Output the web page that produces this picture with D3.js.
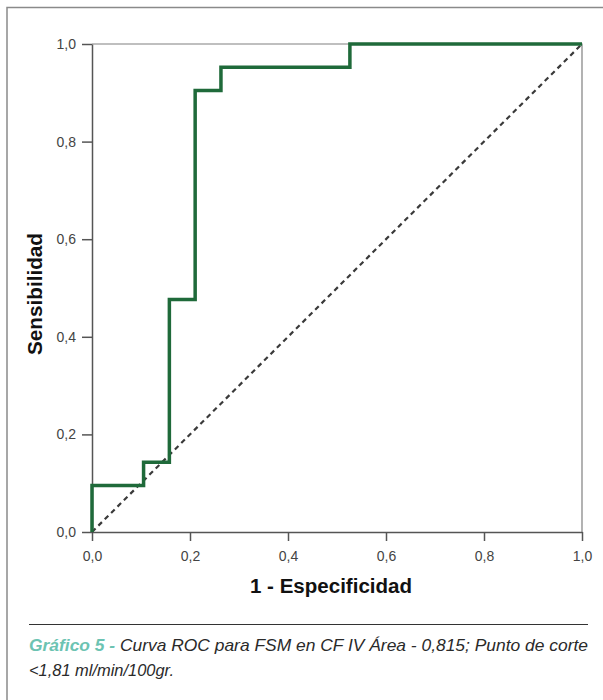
<!DOCTYPE html>
<html><head><meta charset="utf-8">
<script src="https://cdn.jsdelivr.net/npm/d3@7/dist/d3.min.js"></script>
<style>body{margin:0;background:#fff}svg{display:block}</style>
</head><body>
<script>
// ROC curve points (1 - Especificidad, Sensibilidad)
const fpr = [0, 0, 2/19, 2/19, 3/19, 3/19, 4/19, 4/19, 5/19, 5/19, 10/19, 10/19, 1];
const tpr = [0, 2/21, 2/21, 3/21, 3/21, 10/21, 10/21, 19/21, 19/21, 20/21, 20/21, 1, 1];
const tickValues = [0, 0.2, 0.4, 0.6, 0.8, 1.0];
const tickLabels = ["0,0", "0,2", "0,4", "0,6", "0,8", "1,0"];
const xTitle = "1 - Especificidad";
const yTitle = "Sensibilidad";
const captionLead = "Gráfico 5 -";
const captionLine1 = " Curva ROC para FSM en CF IV Área - 0,815; Punto de corte";
const captionLine2 = "<1,81 ml/min/100gr.";

const W = 603, H = 700;
const svg = d3.select("body").append("svg").attr("width", W).attr("height", H);

// outer frame
svg.append("rect").attr("x", 7).attr("y", 7.5).attr("width", 620).attr("height", 720)
  .attr("fill", "none").attr("stroke", "#8a8a8a").attr("stroke-width", 1.5);

const x = d3.scaleLinear().domain([0, 1]).range([92, 582]);
const y = d3.scaleLinear().domain([0, 1]).range([532, 44]);

const font = "Liberation Sans, Arial, sans-serif";

// top & right frame
svg.append("path").attr("d", `M${x(0)},${y(1)}H${x(1)}V${y(0)}`)
  .attr("fill", "none").attr("stroke", "#808080").attr("stroke-width", 1.2);

// axes
const fmt = d => tickLabels[tickValues.indexOf(d)];
const gx = svg.append("g").attr("transform", `translate(0,${y(0)})`)
  .call(d3.axisBottom(x).tickValues(tickValues).tickFormat(fmt).tickSizeOuter(0).tickSizeInner(9).tickPadding(10));
const gy = svg.append("g").attr("transform", `translate(${x(0)},0)`)
  .call(d3.axisLeft(y).tickValues(tickValues).tickFormat(fmt).tickSizeOuter(0).tickSizeInner(10).tickPadding(6));
[gx, gy].forEach(g => {
  g.select(".domain").attr("stroke", "#555").attr("stroke-width", 1.5);
  g.selectAll(".tick line").attr("stroke", "#555").attr("stroke-width", 1.5);
  g.selectAll(".tick text").attr("fill", "#444").style("font-family", font).style("font-size", "14px");
});

// diagonal reference
svg.append("line").attr("x1", x(0)).attr("y1", y(0)).attr("x2", x(1)).attr("y2", y(1))
  .attr("stroke", "#3a3a3a").attr("stroke-width", 2.2).attr("stroke-dasharray", "5,4");

// ROC curve
const pts = fpr.map((f, i) => [f, tpr[i]]);
svg.append("path").datum(pts)
  .attr("d", d3.line().x(d => x(d[0])).y(d => y(d[1])))
  .attr("fill", "none").attr("stroke", "#1f6a3a").attr("stroke-width", 3.5)
  .attr("stroke-linejoin", "miter");

// axis titles
svg.append("text").attr("x", 331).attr("y", 593).attr("text-anchor", "middle")
  .attr("textLength", 162).attr("lengthAdjust", "spacingAndGlyphs")
  .style("font-family", font).style("font-weight", "bold").style("font-size", "20px")
  .attr("fill", "#111").text(xTitle);
svg.append("text").attr("transform", `translate(42,294) rotate(-90)`)
  .attr("text-anchor", "middle")
  .attr("textLength", 122).attr("lengthAdjust", "spacingAndGlyphs")
  .style("font-family", font).style("font-weight", "bold").style("font-size", "20px")
  .attr("fill", "#111").text(yTitle);

// caption
svg.append("line").attr("x1", 29).attr("x2", 588).attr("y1", 624.5).attr("y2", 624.5)
  .attr("stroke", "#333").attr("stroke-width", 1);
const t1 = svg.append("text").attr("x", 29).attr("y", 651)
  .attr("textLength", 559).attr("lengthAdjust", "spacingAndGlyphs")
  .style("font-family", font).style("font-style", "italic").style("font-size", "17px");
t1.append("tspan").attr("fill", "#6cc3b2").style("font-weight", "bold").text(captionLead);
t1.append("tspan").attr("fill", "#2a2a2a").text(captionLine1);
svg.append("text").attr("x", 29).attr("y", 676)
  .attr("textLength", 145).attr("lengthAdjust", "spacingAndGlyphs")
  .style("font-family", font).style("font-style", "italic").style("font-size", "17px")
  .attr("fill", "#2a2a2a").text(captionLine2);
</script>
</body></html>
